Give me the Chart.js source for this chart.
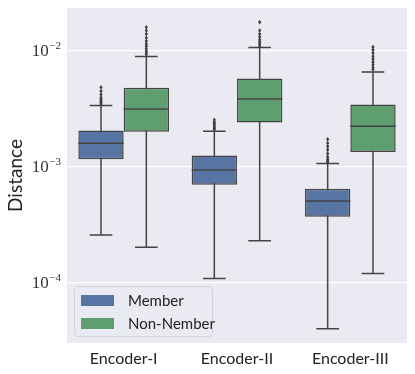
<!DOCTYPE html>
<html>
<head>
<meta charset="utf-8">
<script src="https://cdn.jsdelivr.net/npm/chart.js@4/dist/chart.umd.min.js"></script>
<style>
  html, body { margin: 0; padding: 0; background: #fff; }
  #wrap { position: relative; width: 415px; height: 374px; }
  #legend {
    position: absolute; left: 74px; top: 286px; width: 137px; height: 49px;
    border: 1px solid #d2d2da; border-radius: 4px; background: rgba(234,234,242,0.85);
    font-family: Lato, "Open Sans", sans-serif; font-size: 15px; color: #222;
  }
  .item { position: absolute; left: 6px; height: 16px; line-height: 16px; }
  .sw { position: absolute; left: 0; top: 2px; width: 33px; height: 11px; }
  .lbl { position: absolute; left: 47px; top: -1px; white-space: nowrap; }
</style>
</head>
<body>
<div id="wrap">
  <canvas id="chart" width="415" height="374"></canvas>
  <div id="legend">
    <div class="item" style="top:6px"><span class="sw" style="background:#5874a3"></span><span class="lbl">Member</span></div>
    <div class="item" style="top:29px"><span class="sw" style="background:#5f9e6e"></span><span class="lbl">Non-Nember</span></div>
  </div>
</div>
<script>
// categories and box statistics
const categories = ['Encoder-I', 'Encoder-II', 'Encoder-III'];

const memberLow = [2.58e-4, 1.09e-4, 4.0e-5];
const memberQ1 = [1.16e-3, 7.0e-4, 3.71e-4];
const memberMedian = [1.60e-3, 9.4e-4, 5.06e-4];
const memberQ3 = [2.06e-3, 1.25e-3, 6.46e-4];
const memberHigh = [3.38e-3, 2.03e-3, 1.07e-3];
const memberOutliers = [
    [4.85e-3, 4.5e-3, 4.2e-3, 3.95e-3, 3.8e-3, 3.7e-3, 3.6e-3, 3.5e-3],
    [2.54e-3, 2.42e-3, 2.35e-3, 2.28e-3, 2.2e-3, 2.15e-3, 2.1e-3],
    [1.73e-3, 1.6e-3, 1.5e-3, 1.4e-3, 1.3e-3, 1.22e-3, 1.17e-3, 1.13e-3, 1.1e-3]
];

const nonLow = [2.02e-4, 2.30e-4, 1.20e-4];
const nonQ1 = [2.01e-3, 2.41e-3, 1.34e-3];
const nonMedian = [3.16e-3, 3.84e-3, 2.24e-3];
const nonQ3 = [4.80e-3, 5.77e-3, 3.44e-3];
const nonHigh = [8.93e-3, 1.07e-2, 6.59e-3];
const nonOutliers = [
    [1.6e-2, 1.5e-2, 1.4e-2, 1.3e-2, 1.22e-2, 1.15e-2, 1.1e-2, 1.05e-2, 1.0e-2, 9.6e-3, 9.3e-3],
    [1.77e-2, 1.5e-2, 1.4e-2, 1.32e-2, 1.25e-2, 1.2e-2, 1.15e-2, 1.1e-2],
    [1.08e-2, 1.02e-2, 9.6e-3, 9.0e-3, 8.5e-3, 8.0e-3, 7.6e-3, 7.2e-3, 6.9e-3]
];

const yTicks = [1e-4, 1e-3, 1e-2];

const boxStats = [
    { low: memberLow, med: memberMedian, high: memberHigh, out: memberOutliers },
    { low: nonLow, med: nonMedian, high: nonHigh, out: nonOutliers }
];

const lineColor = '#444444';

// whiskers, caps, medians, fliers and the 10^x tick labels
const boxPlugin = {
    id: 'boxExtras',
    beforeDraw(chart) {
        const a = chart.chartArea;
        const ctx = chart.ctx;
        ctx.save();
        ctx.fillStyle = '#eaeaf2';
        ctx.fillRect(a.left, a.top, a.right - a.left, a.bottom - a.top);
        ctx.restore();
    },
    beforeDatasetsDraw(chart) {
        const ctx = chart.ctx;
        const y = chart.scales.y;
        ctx.save();
        ctx.strokeStyle = lineColor;
        ctx.lineWidth = 1.5;
        boxStats.forEach((s, di) => {
            const meta = chart.getDatasetMeta(di);
            meta.data.forEach((bar, i) => {
                const cap = bar.width / 4;
                const yl = y.getPixelForValue(s.low[i]);
                const yh = y.getPixelForValue(s.high[i]);
                ctx.beginPath();
                ctx.moveTo(bar.x, yl); ctx.lineTo(bar.x, yh);
                ctx.moveTo(bar.x - cap, yl); ctx.lineTo(bar.x + cap, yl);
                ctx.moveTo(bar.x - cap, yh); ctx.lineTo(bar.x + cap, yh);
                ctx.stroke();
            });
        });
        ctx.restore();
    },
    afterDatasetsDraw(chart) {
        const ctx = chart.ctx;
        const y = chart.scales.y;
        ctx.save();
        ctx.strokeStyle = lineColor;
        ctx.fillStyle = '#3d3d3d';
        ctx.lineWidth = 1.5;
        boxStats.forEach((s, di) => {
            const meta = chart.getDatasetMeta(di);
            meta.data.forEach((bar, i) => {
                const half = bar.width / 2;
                const ym = y.getPixelForValue(s.med[i]);
                ctx.beginPath();
                ctx.moveTo(bar.x - half, ym); ctx.lineTo(bar.x + half, ym);
                ctx.stroke();
                s.out[i].forEach(v => {
                    const py = y.getPixelForValue(v);
                    ctx.beginPath();
                    ctx.moveTo(bar.x, py - 2.3);
                    ctx.lineTo(bar.x + 1.6, py);
                    ctx.lineTo(bar.x, py + 2.3);
                    ctx.lineTo(bar.x - 1.6, py);
                    ctx.closePath();
                    ctx.fill();
                });
            });
        });
        // y tick labels as 10 with a raised exponent
        ctx.fillStyle = '#333';
        ctx.textBaseline = 'alphabetic';
        y.ticks.forEach(t => {
            const py = y.getPixelForValue(t.value);
            const exp = '\u2212' + Math.round(-Math.log10(t.value));
            ctx.font = '11px "Liberation Serif", serif';
            const w2 = ctx.measureText(exp).width;
            ctx.textAlign = 'left';
            ctx.fillText(exp, 61 - w2, py - 1.5);
            ctx.font = '17px "Liberation Serif", serif';
            ctx.textAlign = 'right';
            ctx.fillText('10', 61 - w2 - 0.5, py + 5.5);
        });
        ctx.restore();
    }
};

new Chart(document.getElementById('chart'), {
    type: 'bar',
    data: {
        labels: categories,
        datasets: [
            {
                label: 'Member',
                data: memberQ1.map((q, i) => [q, memberQ3[i]]),
                backgroundColor: '#5874a3',
                borderColor: lineColor,
                borderWidth: 1.5,
                borderSkipped: false
            },
            {
                label: 'Non-Nember',
                data: nonQ1.map((q, i) => [q, nonQ3[i]]),
                backgroundColor: '#5f9e6e',
                borderColor: lineColor,
                borderWidth: 1.5,
                borderSkipped: false
            }
        ]
    },
    options: {
        responsive: false,
        animation: false,
        layout: { padding: { top: 8, right: 8, left: 0, bottom: 0 } },
        categoryPercentage: 0.8,
        barPercentage: 1.0,
        plugins: {
            legend: { display: false },
            tooltip: { enabled: false }
        },
        scales: {
            x: {
                grid: { display: false, drawTicks: false },
                border: { display: false },
                ticks: {
                    color: '#222',
                    padding: 6,
                    font: { family: 'Lato, "Open Sans", sans-serif', size: 16 }
                },
                afterFit: (s) => { s.height = 31; }
            },
            y: {
                type: 'logarithmic',
                min: Math.pow(10, -4.52),
                max: Math.pow(10, -1.63),
                grid: { color: '#ffffff', lineWidth: 1.2, drawTicks: false },
                border: { display: false },
                ticks: { display: false },
                afterBuildTicks: (s) => { s.ticks = yTicks.map(v => ({ value: v })); },
                afterFit: (s) => { s.width = 67; },
                title: {
                    display: true,
                    text: 'Distance',
                    color: '#222',
                    font: { family: 'Lato, "Open Sans", sans-serif', size: 19 }
                }
            }
        }
    },
    plugins: [boxPlugin]
});
</script>
</body>
</html>
